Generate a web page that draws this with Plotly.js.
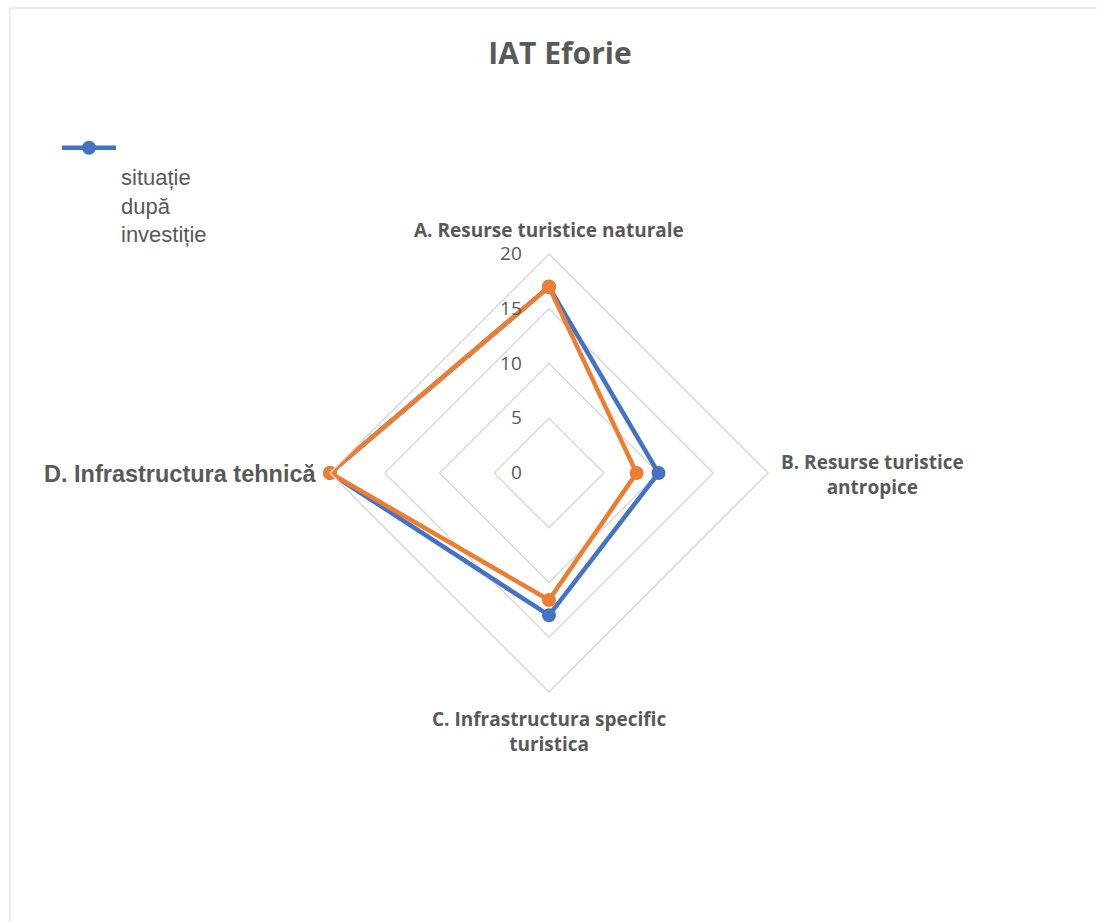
<!DOCTYPE html>
<html>
<head>
<meta charset="utf-8">
<script src="https://cdn.plot.ly/plotly-3.0.1.min.js"></script>
<style>html,body{margin:0;padding:0;background:#fff;}#chart{width:1097px;height:922px;}</style>
</head>
<body>
<div id="chart"></div>
<script>
const categories = ["A. Resurse turistice naturale", "B. Resurse turistice antropice", "C. Infrastructura specific turistica", "D. Infrastructura tehnică"];
const categoryLabels = ["A. Resurse turistice naturale", "B. Resurse turistice<br>antropice", "C. Infrastructura specific<br>turistica", "D. Infrastructura tehnică"];
const seriesNames = ["situație după investiție", "situație înainte de investiție"];
const afterValues = [17, 10, 13, 20];
const beforeValues = [17, 8, 11.6, 20];
const radialTicks = [0, 5, 10, 15, 20];

const closeLoop = a => a.concat([a[0]]);

const traces = [
  {
    type: 'scatterpolar',
    r: closeLoop(afterValues),
    theta: closeLoop(categories),
    mode: 'lines+markers',
    name: '<br>' + seriesNames[0].split(' ').join('<br>'),
    line: {color: '#4472C4', width: 4.5},
    marker: {color: '#4472C4', size: 14},
    showlegend: true
  },
  {
    type: 'scatterpolar',
    r: closeLoop(beforeValues),
    theta: closeLoop(categories),
    mode: 'lines+markers',
    name: seriesNames[1],
    line: {color: '#ED7D31', width: 4.5},
    marker: {color: '#ED7D31', size: 14},
    showlegend: false
  }
];

const cx = 549, cy = 473, R = 219, W = 1097, H = 922;

const catFont = {family: '"Open Sans", Lato, sans-serif', size: 19, color: '#595959'};
const annPos = [
  {x: 549, y: 230, xanchor: 'center', font: catFont},
  {x: 872, y: 474, xanchor: 'center', font: catFont},
  {x: 549, y: 731, xanchor: 'center', font: catFont},
  {x: 319, y: 474, xanchor: 'right', font: {family: '"Liberation Sans", Arial, sans-serif', size: 23.5, color: '#595959'}}
];

const annotations = categoryLabels.map((t, i) => ({
  text: '<b>' + t + '</b>',
  xref: 'paper', yref: 'paper',
  x: annPos[i].x / W, y: 1 - annPos[i].y / H,
  xanchor: annPos[i].xanchor, yanchor: 'middle',
  showarrow: false,
  align: 'center',
  font: annPos[i].font
}));

const layout = {
  width: W, height: H,
  margin: {l: 0, r: 0, t: 0, b: 0},
  paper_bgcolor: '#ffffff',
  title: {
    text: '<b>IAT Eforie</b>',
    x: 560 / W, xanchor: 'center',
    y: 1 - 53 / H, yanchor: 'middle',
    font: {family: '"Open Sans", Lato, sans-serif', size: 30, color: '#595959'}
  },
  showlegend: true,
  legend: {
    x: 57 / W, y: 1 - 127 / H, xanchor: 'left', yanchor: 'top',
    font: {family: '"Liberation Sans", Arial, sans-serif', size: 22, color: '#595959'},
    bgcolor: 'rgba(0,0,0,0)',
    valign: 'top',
    itemwidth: 54
  },
  polar: {
    domain: {x: [(cx - R) / W, (cx + R) / W], y: [1 - (cy + R) / H, 1 - (cy - R) / H]},
    bgcolor: 'rgba(0,0,0,0)',
    gridshape: 'linear',
    radialaxis: {
      range: [0, 20],
      tickvals: radialTicks,
      ticktext: radialTicks.map(String),
      angle: 90,
      side: 'counterclockwise',
      showline: false,
      ticks: 'outside',
      ticklen: 20,
      tickcolor: 'rgba(0,0,0,0)',
      gridcolor: '#d9d9d9',
      gridwidth: 1.5,
      tickfont: {family: '"Open Sans", Lato, sans-serif', size: 19, color: '#595959'},
      tickangle: 90
    },
    angularaxis: {
      rotation: 90,
      direction: 'clockwise',
      showline: true,
      linecolor: '#d9d9d9',
      linewidth: 1.5,
      showgrid: false,
      ticks: '',
      showticklabels: false
    }
  },
  annotations: annotations,
  shapes: [
    {type: 'rect', xref: 'paper', yref: 'paper', x0: 10 / W, x1: 1.01, y0: -0.01, y1: 1 - 8 / H,
     line: {color: '#d9d9d9', width: 1}, fillcolor: 'rgba(0,0,0,0)'}
  ]
};

Plotly.newPlot('chart', traces, layout, {displayModeBar: false, staticPlot: true});
</script>
</body>
</html>
